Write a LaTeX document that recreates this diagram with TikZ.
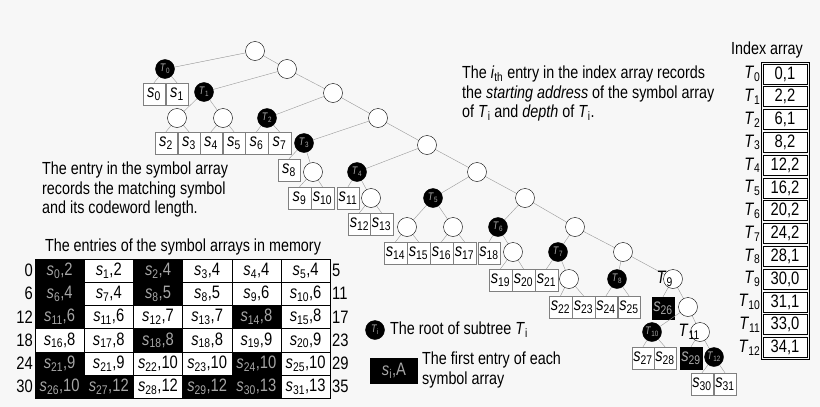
\documentclass[tikz,border=0pt]{standalone}
\usepackage{fontspec}
\setmainfont[FakeStretch=0.82]{Liberation Sans}
\newcommand{\sy}[1]{\textit{s}\textsubscript{#1}}
\newcommand{\Tn}[1]{\textit{T}\textsubscript{#1}}
\tikzset{
  circ/.style={circle,draw,fill=white,minimum size=19pt,inner sep=0pt},
  troot/.style={circle,draw,fill=black,minimum size=19pt,inner sep=0pt,text=gray!70,font=\fontsize{11}{11}\selectfont},
  sbox/.style={draw=gray,fill=white,minimum width=22.5pt,minimum height=22pt,inner sep=0pt,font=\fontsize{18}{18}\selectfont},
  sblack/.style={sbox,fill=black,draw=black,text=gray!70},
  cellfont/.style={font=\fontsize{18}{18}\selectfont,inner sep=0pt},
  edge/.style={draw=gray!80,thin},
  txt/.style={anchor=west,font=\fontsize{17.5}{17.5}\selectfont,inner sep=0pt}
}
\begin{document}
\begin{tikzpicture}[x=1pt,y=-1pt]
    \useasboundingbox[fill=gray!6] (0,0) rectangle (820,407);

    % Spine of the tree
    \foreach \n/\x/\y in {r0/255/51,r1/287/69,r2/333/93,r3/378/118,r4/427/145,r5/477/172,
        r6/525/198,r7/575/227,r8/623/252,r9/673/279,r10/688/307,r11/700/332,
        c1a/177/118,c1b/223/118,c3/313/172,c4/371/198,c5a/407/227,c5b/453/227,c6/513/252,c7/569/279}
        \coordinate (\n) at (\x,\y);
    \foreach \n/\x/\y in {0/165/69,1/204/92,2/267/118,3/304/143,4/357/172,5/433/198,6/498/227,
        7/558/252,8/617/279,10/652/332,12/714/357}
        \coordinate (T\n) at (\x,\y);

    % Symbol boxes
    \foreach \k/\x/\y in {0/154/94,1/177/94,2/166/143,3/189/143,4/211/143,5/234/143,6/256.5/143,7/279.5/143,
        8/289/170,9/299.5/198,10/322.5/198,11/348/198,12/359.5/224,13/381.5/224,
        14/395.5/253,15/418.5/253,16/441.5/253,17/464.5/253,18/489/253,19/500.5/280,20/523.5/280,21/546.5/280,
        22/560.5/307,23/583.5/307,24/606/307,25/629/307,27/643/358,28/665/358,30/702/384,31/725/384}
        \node[sbox] (s\k) at (\x,\y) {\sy{\k}};
    \node[sblack] (s26) at (663,308) {\sy{26}};
    \node[sblack] (s29) at (691,358) {\sy{29}};

    % Edges
    \foreach \a/\b in {r0/T0,r0/r1,r1/T1,r1/r2,r2/T2,r2/r3,r3/T3,r3/r4,r4/T4,r4/r5,r5/T5,r5/r6,r6/T6,r6/r7,
        r7/T7,r7/r8,r8/T8,r8/r9,r9/r10,r10/T10,r10/r11,r11/T12,T1/c1a,T1/c1b,T3/c3,T4/c4,T5/c5a,T5/c5b,T6/c6,T7/c7}
        \draw[edge] (\a) -- (\b);
    \foreach \a/\b in {T0/s0,T0/s1,c1a/s2,c1a/s3,c1b/s4,c1b/s5,T2/s6,T2/s7,T3/s8,c3/s9,c3/s10,T4/s11,
        c4/s12,c4/s13,c5a/s14,c5a/s15,c5b/s16,c5b/s17,T6/s18,c6/s19,c6/s20,T7/s21,c7/s22,c7/s23,
        T8/s24,T8/s25,r9/s26,T10/s27,T10/s28,r11/s29,T12/s30,T12/s31}
        \draw[edge] (\a) -- (\b.north);

    % Circles on top
    \foreach \n in {r0,r1,r2,r3,r4,r5,r6,r7,r8,r9,r10,r11,c1a,c1b,c3,c4,c5a,c5b,c6,c7}
        \node[circ] at (\n) {};
    \foreach \k in {0,1,2,3,4,5,6,7,8,10,12}
        \node[troot] at (T\k) {\textit{T}\textsubscript{\k}};
    \node[txt,anchor=east,font=\fontsize{18}{18}\selectfont] (l9) at (r9.west) {\Tn{9}};
    \node[txt,anchor=east,font=\fontsize{18}{18}\selectfont] (l11) at (r11.west) {\Tn{11}};

    % Texts
    \node[txt,align=left,anchor=north west] (note1) at (42,162) {The entry in the symbol array\\[2pt]records the matching symbol\\[2pt]and its codeword length.};
    \node[txt,align=left,anchor=north west] (note2) at (462,66) {The \textit{i}\textsubscript{th} entry in the index array records\\[2pt]the \textit{starting address} of the symbol array\\[2pt]of \Tn{i} and \textit{depth} of \Tn{i}.};
    \node[txt,anchor=center] (memtitle) at (183,247) {The entries of the symbol arrays in memory};

    % Memory table
    \foreach \i in {0,...,35} {
        \pgfmathtruncatemacro{\row}{int(\i/6)}
        \pgfmathtruncatemacro{\col}{mod(\i,6)}
        \node[draw,fill=white,minimum width=49.2pt,minimum height=23.2pt,inner sep=0pt]
            (m\i) at (35+24.6+49.2*\col,259+11.6+23.2*\row) {};
    }
    \foreach \i in {0,2,6,8,12,16,20,24,28,30,31,33,34}
        \fill (m\i.north west) rectangle (m\i.south east);
    \foreach \i/\s/\l in {1/1/2,3/3/4,4/4/4,5/5/4,7/7/4,9/8/5,10/9/6,11/10/6,
        13/11/6,14/12/7,15/13/7,17/15/8,18/16/8,19/17/8,21/18/8,22/19/9,23/20/9,
        25/21/9,26/22/10,27/23/10,29/25/10,32/28/12,35/31/13}
        \node[cellfont] at (m\i) {\sy{\s},\l};
    \foreach \i/\s/\l in {0/0/2,2/2/4,6/6/4,8/8/5,12/11/6,16/14/8,20/18/8,24/21/9,28/24/10,30/26/10,31/27/12,33/29/12,34/30/13}
        \node[cellfont,text=gray!70] at (m\i) {\sy{\s},\l};
    \foreach \r [count=\j from 0] in {0,6,12,18,24,30} {
        \pgfmathtruncatemacro{\e}{\r+5}
        \node[cellfont,anchor=east,inner sep=2pt] at (35,259+11.6+23.2*\j) {\r};
        \node[cellfont,anchor=west,inner sep=2pt] at (330,259+11.6+23.2*\j) {\e};
    }

    % Index array
    \node[txt,anchor=center] (idxtitle) at (767,50) {Index array};
    \foreach \v [count=\i from 0] in {{0,1},{2,2},{6,1},{8,2},{12,2},{16,2},{20,2},{24,2},{28,1},{30,0},{31,1},{33,0},{34,1}} {
        \node[draw,thick,fill=white,minimum width=44pt,minimum height=20pt,inner sep=0pt,
              cellfont] (x\i) at (785,74+22.8*\i) {\v};
        \node[cellfont,anchor=east,inner sep=2pt] at (x\i.west) {\Tn{\i}};
    }
    \draw[thick] (761,62) rectangle (809,86+22.8*12);

    % Legend
    \node[troot] (legT) at (375,330) {\Tn{i}};
    \node[txt] (legTt) at (390,330) {The root of subtree \Tn{i}};
    \node[fill=black,text=gray!70,minimum width=48pt,minimum height=26pt,font=\fontsize{18}{18}\selectfont] (legS) at (394,371) {\sy{i},A};
    \node[txt,align=left] (legSt) at (422,370) {The first entry of each\\[2pt]symbol array};
\end{tikzpicture}
\end{document}
